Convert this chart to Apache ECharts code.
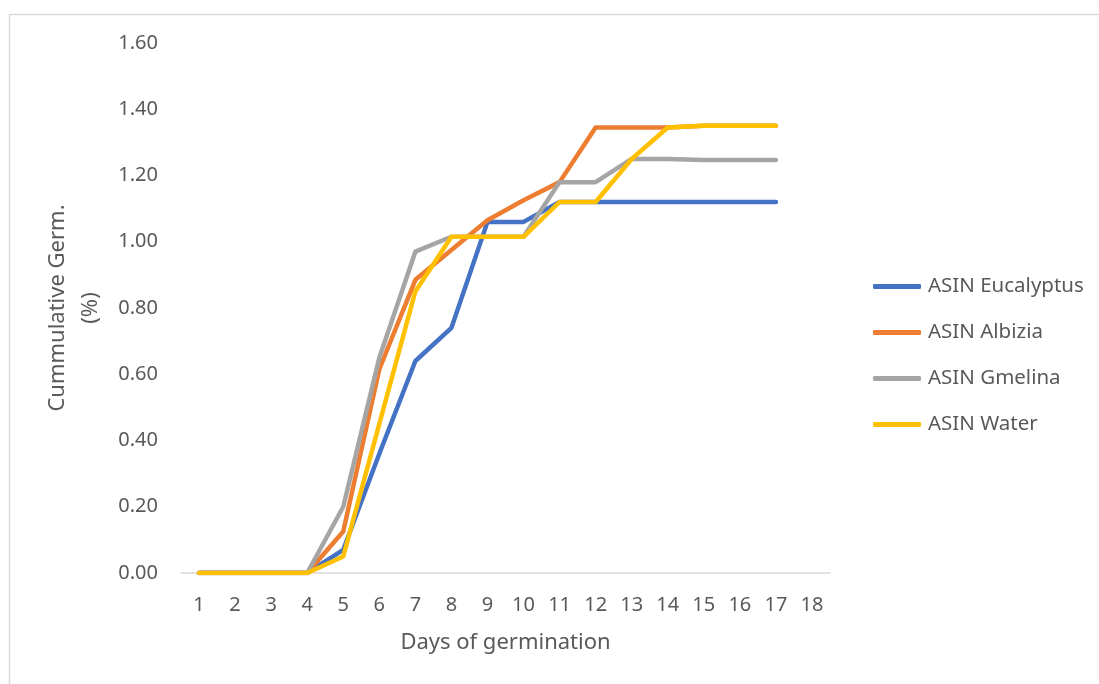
<!DOCTYPE html>
<html>
<head>
<meta charset="utf-8">
<script src="https://cdn.jsdelivr.net/npm/echarts@6/dist/echarts.min.js"></script>
<style>
html,body{margin:0;padding:0;background:#fff;}
#chart{width:1099px;height:684px;}
</style>
</head>
<body>
<div id="chart"></div>
<script>
var days = ['1','2','3','4','5','6','7','8','9','10','11','12','13','14','15','16','17','18'];
var yTicks = [0, 0.2, 0.4, 0.6, 0.8, 1.0, 1.2, 1.4, 1.6];
var eucalyptus = [0,0,0,0,0.07,0.36,0.64,0.74,1.06,1.06,1.12,1.12,1.12,1.12,1.12,1.12,1.12];
var albizia    = [0,0,0,0,0.125,0.615,0.885,0.975,1.065,1.125,1.18,1.345,1.345,1.345,1.35,1.35,1.35];
var gmelina    = [0,0,0,0,0.20,0.65,0.97,1.015,1.015,1.015,1.18,1.18,1.25,1.25,1.247,1.247,1.247];
var water      = [0,0,0,0,0.05,0.45,0.85,1.015,1.015,1.015,1.12,1.12,1.25,1.345,1.35,1.35,1.35];
var seriesNames = ['ASIN Eucalyptus','ASIN Albizia','ASIN Gmelina','ASIN Water'];
var seriesColors = ['#4472C4','#ED7D31','#A5A5A5','#FFC000'];
var seriesData = [eucalyptus, albizia, gmelina, water];

var FONT = 'Noto Sans';
var TXT = '#595959';
var chart = echarts.init(document.getElementById('chart'), null, {renderer:'canvas'});
var option = {
  animation: false,
  backgroundColor: '#fff',
  graphic: [{
    type: 'rect', shape: {x: 9.5, y: 14.5, width: 1200, height: 800},
    style: {fill: 'none', stroke: '#d9d9d9', lineWidth: 1.5}, silent: true, z: -1
  }],
  grid: {left: 181, right: 269, top: 43, bottom: 111, containLabel: false},
  legend: {
    orient: 'vertical', left: 868, top: 271,
    itemWidth: 48, itemHeight: 5, itemGap: 25,
    icon: 'roundRect',
    data: seriesNames,
    textStyle: {fontFamily: FONT, fontSize: 20.5, color: TXT, lineHeight: 20, padding: [0,0,0,2]}
  },
  xAxis: {
    type: 'category', data: days, boundaryGap: true,
    axisLine: {lineStyle: {color: '#d9d9d9', width: 1.5}},
    axisTick: {show: false},
    axisLabel: {fontFamily: FONT, fontSize: 20, color: TXT, margin: 22, interval: 0},
    name: 'Days of germination', nameLocation: 'middle', nameGap: 59,
    nameTextStyle: {fontFamily: FONT, fontSize: 22, color: TXT}
  },
  yAxis: {
    type: 'value', min: 0, max: 1.6, interval: 0.2,
    axisLine: {show: false}, axisTick: {show: false}, splitLine: {show: false},
    axisLabel: {fontFamily: FONT, fontSize: 20, color: TXT, margin: 23,
      formatter: function(v){ return v.toFixed(2); }},
    name: 'Cummulative Germ.\n(%)', nameLocation: 'middle', nameRotate: 90, nameGap: 71,
    nameTextStyle: {fontFamily: FONT, fontSize: 22, color: TXT, lineHeight: 33, align: 'center'}
  },
  series: seriesNames.map(function(n, i){
    return {
      name: n, type: 'line', data: seriesData[i], symbol: 'none',
      color: seriesColors[i],
      lineStyle: {width: 4.5, color: seriesColors[i], cap: 'round', join: 'round'},
      itemStyle: {color: seriesColors[i]}
    };
  })
};
chart.setOption(option);
</script>
</body>
</html>
